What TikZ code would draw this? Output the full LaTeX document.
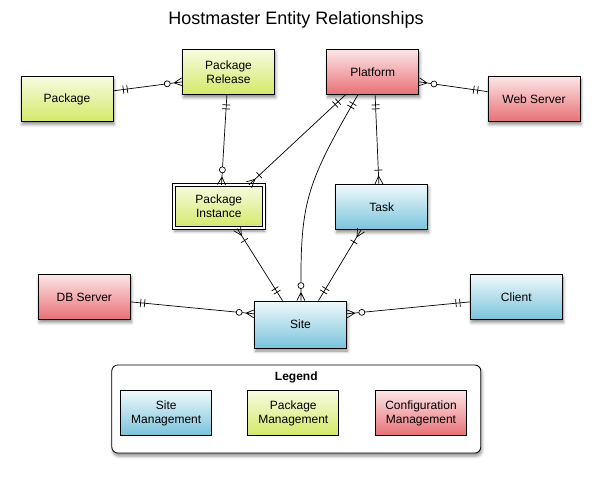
\documentclass[tikz,border=0pt]{standalone}
\usepackage{fontspec}
\setmainfont{Liberation Sans}
\usetikzlibrary{shadows.blur}

\definecolor{sitetop}{RGB}{240,249,252}
\definecolor{sitebot}{RGB}{122,195,219}
\definecolor{pkgtop}{RGB}{247,251,225}
\definecolor{pkgbot}{RGB}{212,232,104}
\definecolor{cfgtop}{RGB}{252,230,231}
\definecolor{cfgbot}{RGB}{232,112,118}

% crow's foot ends
\pgfdeclarearrow{
  name = One,
  setup code = {
    \pgfarrowssettipend{0pt}
    \pgfarrowssetlineend{0pt}
    \pgfarrowssetbackend{-15pt}
  },
  drawing code = {
    \pgfpathmoveto{\pgfqpoint{-10pt}{4pt}}
    \pgfpathlineto{\pgfqpoint{-10pt}{-4pt}}
    \pgfpathmoveto{\pgfqpoint{-14pt}{4pt}}
    \pgfpathlineto{\pgfqpoint{-14pt}{-4pt}}
    \pgfusepathqstroke
  }
}
\pgfdeclarearrow{
  name = OneMany,
  setup code = {
    \pgfarrowssettipend{0pt}
    \pgfarrowssetlineend{0pt}
    \pgfarrowssetbackend{-15pt}
  },
  drawing code = {
    \pgfpathmoveto{\pgfqpoint{0pt}{4pt}}
    \pgfpathlineto{\pgfqpoint{-8pt}{0pt}}
    \pgfpathlineto{\pgfqpoint{0pt}{-4pt}}
    \pgfpathmoveto{\pgfqpoint{-14pt}{4pt}}
    \pgfpathlineto{\pgfqpoint{-14pt}{-4pt}}
    \pgfusepathqstroke
  }
}
\pgfdeclarearrow{
  name = ZeroMany,
  setup code = {
    \pgfarrowssettipend{0pt}
    \pgfarrowssetlineend{-18pt}
    \pgfarrowssetbackend{-18pt}
  },
  drawing code = {
    \pgfpathmoveto{\pgfqpoint{0pt}{4pt}}
    \pgfpathlineto{\pgfqpoint{-8pt}{0pt}}
    \pgfpathlineto{\pgfqpoint{0pt}{-4pt}}
    \pgfpathmoveto{\pgfqpoint{0pt}{0pt}}
    \pgfpathlineto{\pgfqpoint{-12pt}{0pt}}
    \pgfpathcircle{\pgfqpoint{-15pt}{0pt}}{3pt}
    \pgfusepathqstroke
  }
}

\tikzset{
  entity/.style={draw, line width=0.8pt, minimum width=92pt, minimum height=45pt,
    align=center, font=\fontsize{12}{14}\selectfont},
  shadowed/.style={blur shadow={shadow xshift=1pt, shadow yshift=-3pt,
    shadow blur radius=3pt, shadow opacity=45}},
  sitebox/.style={entity, top color=sitetop, bottom color=sitebot},
  pkgbox/.style={entity, top color=pkgtop, bottom color=pkgbot},
  cfgbox/.style={entity, top color=cfgtop, bottom color=cfgbot},
  rel/.style={line width=0.7pt}
}

\begin{document}
\begin{tikzpicture}[x=1pt, y=-1pt]
\useasboundingbox (0,0) rectangle (600,477);

\node[font=\fontsize{18}{21}\selectfont] (title) at (296,20) {Hostmaster Entity Relationships};

\node[pkgbox, shadowed] (package) at (67,99) {Package};
\node[pkgbox, shadowed] (release) at (228.5,72) {Package\\Release};
\node[cfgbox, shadowed] (platform) at (372.7,72) {Platform};
\node[cfgbox, shadowed] (webserver) at (534,99) {Web Server};
\node[pkgbox, shadowed, double, double distance=2pt, minimum width=90pt, minimum height=43pt] (instance) at (218.8,206.7) {Package\\Instance};
\node[sitebox, shadowed] (task) at (381.7,207) {Task};
\node[cfgbox, shadowed] (dbserver) at (84.3,297) {DB Server};
\node[sitebox, shadowed, minimum height=47pt] (site) at (300.5,324.5) {Site};
\node[sitebox, shadowed] (client) at (516.3,297) {Client};

\draw[rel, One-ZeroMany] (package.10) -- (release.192);
\draw[rel, One-ZeroMany] (release.266) -- (instance.83);
\draw[rel, ZeroMany-One] (platform.348) -- (webserver.171);
\draw[rel, One-OneMany] (platform.220) -- (instance.36);
\draw[rel, One-ZeroMany] (platform.237) to[out=240, in=90, looseness=1.2] (site.89);
\draw[rel, One-OneMany] (platform.276) -- (task.97);
\draw[rel, OneMany-One] (instance.310) -- (site.127);
\draw[rel, OneMany-One] (task.228) -- (site.53);
\draw[rel, One-ZeroMany] (dbserver.354) -- (site.167);
\draw[rel, One-ZeroMany] (client.186) -- (site.13);

\node[draw, line width=0.8pt, fill=white, rounded corners=6pt, shadowed,
  minimum width=369pt, minimum height=88pt] (legend) at (296.3,409) {};
\node[font=\fontsize{12}{14}\selectfont\bfseries] (legendtitle) at (296.3,377) {Legend};
\node[sitebox, minimum width=91pt] (sitekey) at (166.2,413) {Site\\Management};
\node[pkgbox, minimum width=91pt] (pkgkey) at (293.3,413) {Package\\Management};
\node[cfgbox, minimum width=91pt] (cfgkey) at (421,413) {Configuration\\Management};
\end{tikzpicture}
\end{document}
